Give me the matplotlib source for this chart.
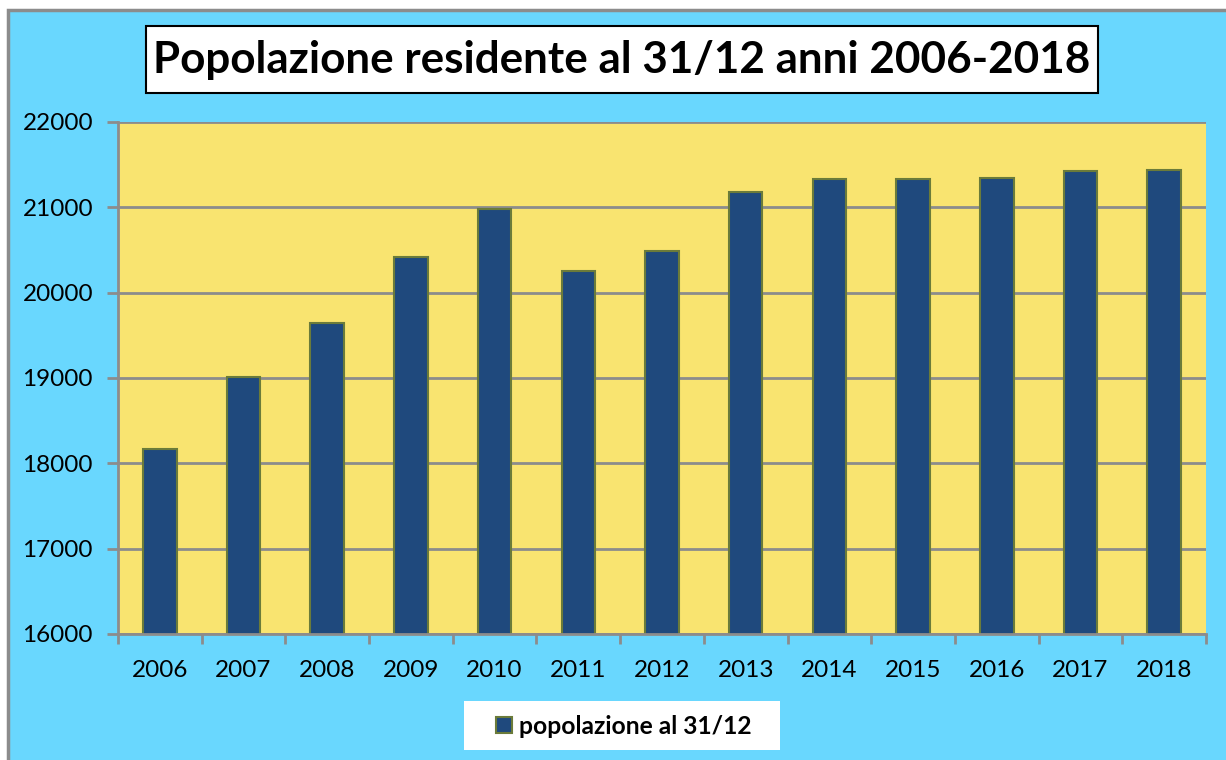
import matplotlib.pyplot as plt
import matplotlib.patches as mpatches

# dati
anni = ['2006', '2007', '2008', '2009', '2010', '2011', '2012',
        '2013', '2014', '2015', '2016', '2017', '2018']
popolazione = [18170, 19015, 19650, 20420, 20977, 20250, 20490,
               21185, 21332, 21336, 21348, 21430, 21441]
y_ticks = [16000, 17000, 18000, 19000, 20000, 21000, 22000]

TITLE = 'Popolazione residente al 31/12 anni 2006-2018'
LEGEND_LABEL = 'popolazione al 31/12'

BG_BLUE = '#69D7FE'
PLOT_YELLOW = '#F9E470'
BAR_BLUE = '#1F497D'
BAR_EDGE = '#6B7B3A'
GRID_GRAY = '#8C8C8C'

W, H = 1226, 760


def fig_box(x0, y0, x1, y1, **kw):
    # rettangolo in pixel (origine in alto a sinistra) -> coordinate figura
    return mpatches.Rectangle((x0 / W, 1 - y1 / H), (x1 - x0) / W, (y1 - y0) / H,
                              transform=fig.transFigure, **kw)


plt.rcParams['font.family'] = ['Lato', 'DejaVu Sans']

fig = plt.figure(figsize=(W / 100, H / 100), dpi=100, facecolor='white')

# sfondo azzurro con bordo grigio
fig.patches.append(fig_box(8, 10, W + 20, H + 20, facecolor=BG_BLUE,
                           edgecolor=GRID_GRAY, linewidth=2.5, zorder=-10))

ax = fig.add_axes([118 / W, 1 - 634 / H, (1206 - 118) / W, (634 - 122) / H])
ax.set_facecolor(PLOT_YELLOW)

x = range(len(anni))
ax.bar(x, popolazione, width=0.4, color=BAR_BLUE, edgecolor=BAR_EDGE,
       linewidth=1.5, label=LEGEND_LABEL, zorder=3)

ax.set_xlim(-0.5, len(anni) - 0.5)
ax.set_ylim(16000, 22000)
ax.set_yticks(y_ticks)
ax.set_yticklabels([str(v) for v in y_ticks])
ax.set_xticks(x)
ax.set_xticklabels(anni)
ax.set_xticks([i - 0.5 for i in range(len(anni) + 1)], minor=True)

ax.tick_params(axis='x', which='major', length=0, pad=19, labelsize=17.5)
ax.tick_params(axis='x', which='minor', length=7, width=2, color=GRID_GRAY, direction='out')
ax.tick_params(axis='y', length=8, width=2, color=GRID_GRAY, pad=10, labelsize=17.5)

ax.grid(axis='y', color=GRID_GRAY, linewidth=2, zorder=1)
ax.set_axisbelow(True)
for side in ['top', 'right']:
    ax.spines[side].set_visible(False)
for side in ['left', 'bottom']:
    ax.spines[side].set_color(GRID_GRAY)
    ax.spines[side].set_linewidth(2)
    ax.spines[side].set_zorder(4)

# titolo in riquadro bianco
fig.patches.append(fig_box(146, 26, 1098, 93, facecolor='white',
                           edgecolor='black', linewidth=1.5, zorder=1))
fig.text(622 / W, 1 - 60 / H, TITLE, ha='center', va='center', fontsize=31.7,
         fontweight='bold', zorder=2)

# legenda su riquadro bianco
fig.patches.append(fig_box(464, 701, 780, 750, facecolor='white',
                           edgecolor='none', zorder=1))
leg = fig.legend(loc='center', bbox_to_anchor=(624 / W, 1 - 726 / H), frameon=False,
                 prop={'weight': 'bold', 'size': 17.7},
                 handlelength=0.65, handleheight=0.65, handletextpad=0.3,
                 borderpad=0, borderaxespad=0)
leg.set_zorder(3)

fig.savefig('out.png', dpi=100, facecolor='white')
